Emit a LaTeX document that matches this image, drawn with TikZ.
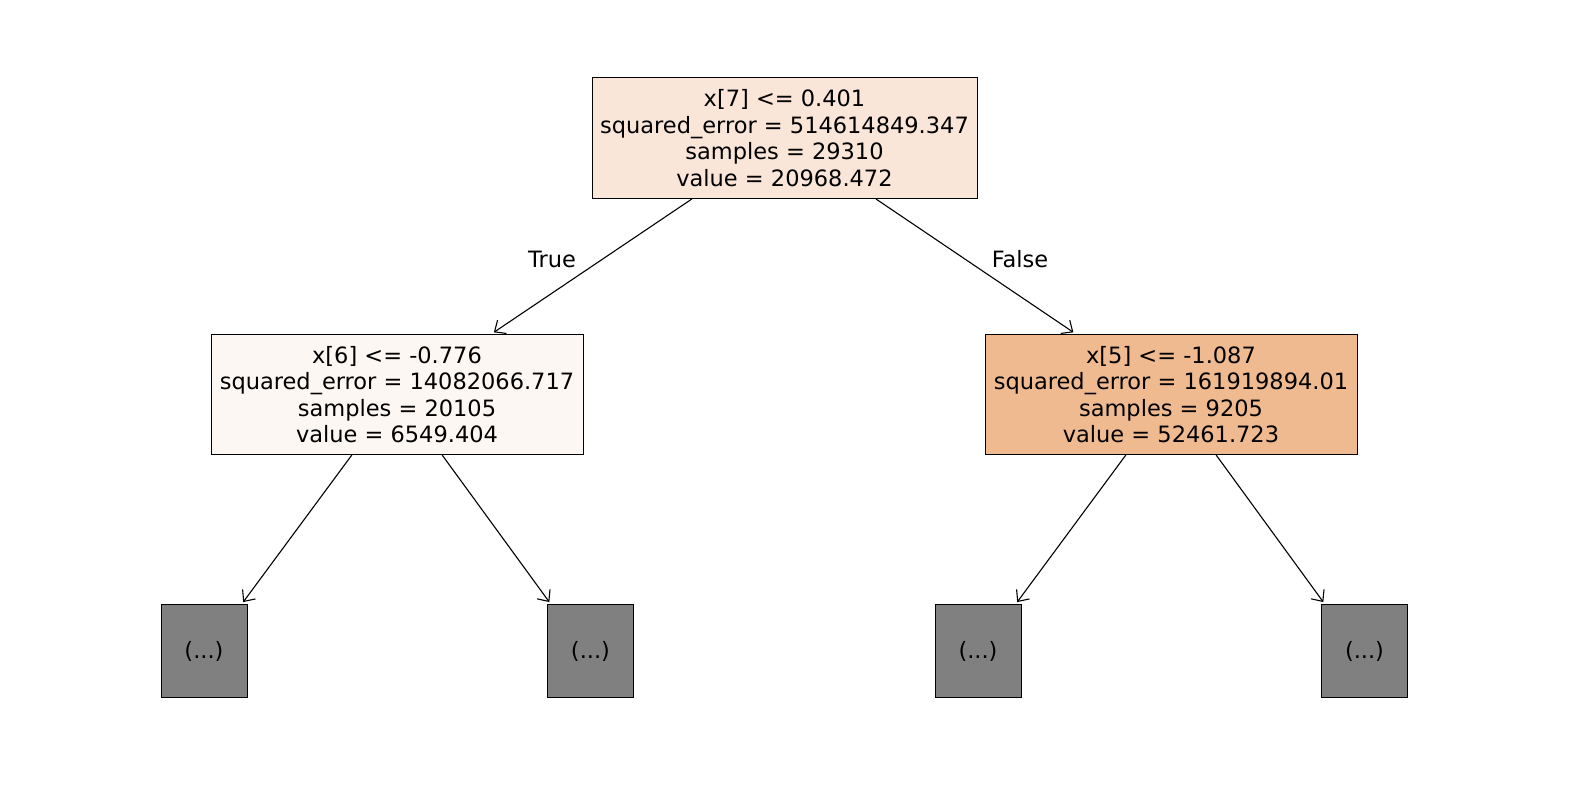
\documentclass[tikz,border=0pt]{standalone}
\usepackage{fontspec}
\setmainfont{DejaVu Sans}
\usetikzlibrary{arrows.meta,calc}
\definecolor{rootc}{RGB}{249,230,216}
\definecolor{leftc}{RGB}{253,247,243}
\definecolor{rightc}{RGB}{240,186,145}
\definecolor{leafc}{RGB}{128,128,128}
\tikzset{
  treebox/.style={draw=black, line width=0.5pt, align=center, inner sep=0pt,
    font=\fontsize{11.25}{13.25}\selectfont},
  leafbox/.style={treebox, fill=leafc, minimum width=43pt, minimum height=46.5pt},
  edge/.style={-{Straight Barb[length=4.5pt,width=8pt]}, line width=0.55pt, shorten >=1.5pt},
  elabel/.style={font=\fontsize{11.25}{13.25}\selectfont}
}
\begin{document}
\begin{tikzpicture}[x=0.5pt,y=-0.5pt]
\useasboundingbox (0,0) rectangle (1570,790);
\node[treebox, fill=rootc, minimum width=192.5pt, minimum height=60.5pt] (root) at (784.5,138)
  {x[7] <= 0.401\\squared\_error = 514614849.347\\samples = 29310\\value = 20968.472};
\node[treebox, fill=leftc, minimum width=186pt, minimum height=60pt] (left) at (397,394.5)
  {x[6] <= -0.776\\squared\_error = 14082066.717\\samples = 20105\\value = 6549.404};
\node[treebox, fill=rightc, minimum width=186pt, minimum height=60pt] (right) at (1171,394.5)
  {x[5] <= -1.087\\squared\_error = 161919894.01\\samples = 9205\\value = 52461.723};
\node[leafbox] (l1) at (204,651.5) {(...)};
\node[leafbox] (l2) at (590.5,651.5) {(...)};
\node[leafbox] (l3) at (978,651.5) {(...)};
\node[leafbox] (l4) at (1364.5,651.5) {(...)};
\draw[edge] ($(root.south west)!0.26!(root.south east)$) -- ($(left.north west)!0.753!(left.north east)$);
\draw[edge] ($(root.south west)!0.737!(root.south east)$) -- ($(right.north west)!0.245!(right.north east)$);
\draw[edge] ($(left.south west)!0.379!(left.south east)$) -- ($(l1.north west)!0.93!(l1.north east)$);
\draw[edge] ($(left.south west)!0.621!(left.south east)$) -- ($(l2.north west)!0.047!(l2.north east)$);
\draw[edge] ($(right.south west)!0.379!(right.south east)$) -- ($(l3.north west)!0.93!(l3.north east)$);
\draw[edge] ($(right.south west)!0.621!(right.south east)$) -- ($(l4.north west)!0.047!(l4.north east)$);
\node[elabel] (tl) at (552,259) {True};
\node[elabel] (fl) at (1020,259) {False};
\end{tikzpicture}
\end{document}
